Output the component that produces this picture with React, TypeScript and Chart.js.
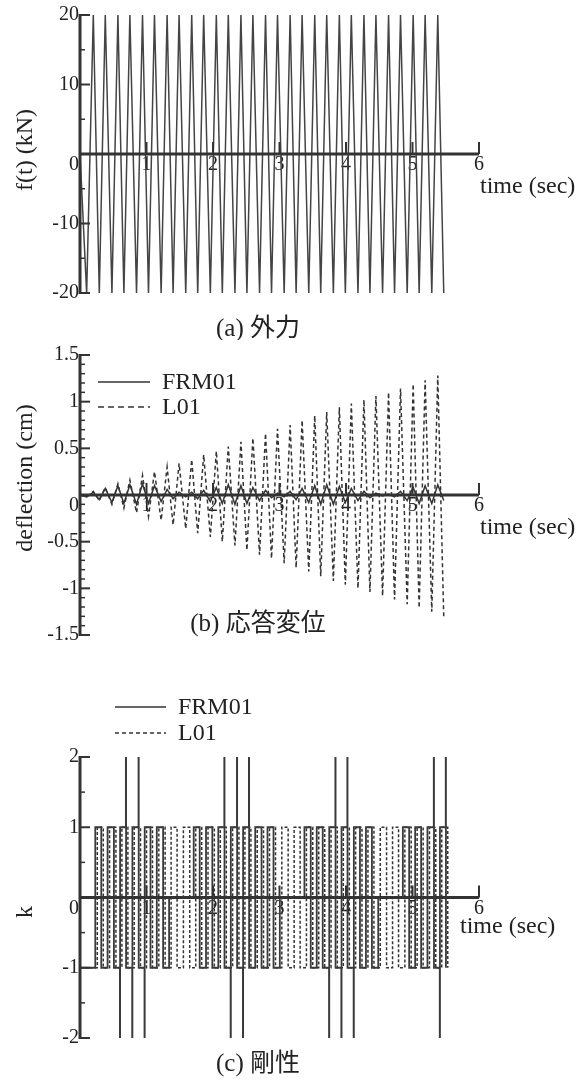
import React, { useEffect, useRef } from "react";
import { Chart, registerables } from "chart.js";

Chart.register(...registerables);

// ---------- DATA ----------
// times (sec) of the extrema of the forcing / response curves
const tExt = [
  0, 0.1, 0.2, 0.29, 0.38, 0.48, 0.57, 0.66, 0.75, 0.85, 0.94, 1.03, 1.12, 1.22, 1.31, 1.4, 1.49, 1.59,
  1.68, 1.77, 1.86, 1.96, 2.05, 2.14, 2.23, 2.33, 2.42, 2.51, 2.6, 2.7, 2.79, 2.88, 2.97, 3.07, 3.16,
  3.25, 3.34, 3.44, 3.53, 3.62, 3.71, 3.81, 3.9, 3.99, 4.08, 4.18, 4.27, 4.36, 4.45, 4.55, 4.64, 4.73,
  4.82, 4.92, 5.01, 5.1, 5.19, 5.29, 5.38, 5.47,
];

// (a) external force f(t) in kN
const forceKN = [
  0, -20, 20, -20, 20, -20, 20, -20, 20, -20, 20, -20, 20, -20, 20, -20, 20, -20, 20, -20, 20, -20, 20,
  -20, 20, -20, 20, -20, 20, -20, 20, -20, 20, -20, 20, -20, 20, -20, 20, -20, 20, -20, 20, -20, 20, -20,
  20, -20, 20, -20, 20, -20, 20, -20, 20, -20, 20, -20, 20, -20,
];

// (b) deflection (cm)
const deflFRM01 = [
  0, -0.02, 0.03, -0.05, 0.07, -0.08, 0.1, -0.09, 0.11, -0.1, 0.12, -0.09, 0.1, -0.07, 0.06, -0.04, 0.03,
  -0.02, 0.03, -0.04, 0.05, -0.07, 0.08, -0.09, 0.11, -0.1, 0.1, -0.09, 0.08, -0.06, 0.05, -0.03, 0.02,
  -0.02, 0.04, -0.05, 0.07, -0.08, 0.1, -0.1, 0.11, -0.1, 0.09, -0.08, 0.07, -0.06, 0.04, -0.03, 0.02,
  -0.01, 0.01, -0.02, 0.04, -0.06, 0.08, -0.09, 0.1, -0.09, 0.11, -0.06,
];
const deflL01 = [
  0, -0.02, 0.04, -0.06, 0.08, -0.1, 0.12, -0.14, 0.16, -0.19, 0.21, -0.23, 0.25, -0.27, 0.3, -0.32, 0.34,
  -0.36, 0.38, -0.41, 0.43, -0.45, 0.47, -0.5, 0.52, -0.54, 0.57, -0.59, 0.61, -0.64, 0.66, -0.68, 0.71,
  -0.73, 0.75, -0.78, 0.8, -0.82, 0.85, -0.87, 0.89, -0.92, 0.94, -0.96, 0.98, -1.0, 1.02, -1.04, 1.06,
  -1.08, 1.1, -1.12, 1.14, -1.17, 1.19, -1.21, 1.23, -1.25, 1.28, -1.31,
];

// (c) stiffness state k (stepped: value holds from its time to the next one)
const kTimeFRM01 = [
  0, 0.23, 0.32, 0.415, 0.51, 0.6, 0.603, 0.69, 0.693, 0.785, 0.788, 0.88, 0.883, 0.97, 0.973, 1.06,
  1.155, 1.25, 1.34, 1.71, 1.8, 1.895, 1.99, 2.08, 2.17, 2.173, 2.265, 2.268, 2.36, 2.363, 2.45, 2.453,
  2.54, 2.543, 2.635, 2.73, 2.82, 2.91, 3.005, 3.375, 3.47, 3.56, 3.65, 3.745, 3.748, 3.84, 3.843, 3.93,
  3.933, 4.02, 4.023, 4.115, 4.118, 4.21, 4.3, 4.39, 4.485, 4.855, 4.95, 5.04, 5.13, 5.225, 5.32, 5.323,
  5.41, 5.413, 5.5, 5.503,
];
const kFRM01 = [
  -1, 1, -1, 1, -1, -2, 1, 2, -1, -2, 1, 2, -1, -2, 1, -1, 1, -1, 0, 1, -1, 1, -1, 1, 2, -1, -2, 1, 2,
  -1, -2, 1, 2, -1, 1, -1, 1, -1, 0, 1, -1, 1, -1, -2, 1, 2, -1, -2, 1, 2, -1, -2, 1, -1, 1, -1, 0, 1,
  -1, 1, -1, 1, 2, -1, -2, 1, 2, -1,
];
const kTimeL01 = [
  0, 0.26, 0.35, 0.445, 0.54, 0.63, 0.72, 0.815, 0.91, 1.0, 1.09, 1.185, 1.28, 1.37, 1.46, 1.555, 1.65,
  1.74, 1.83, 1.925, 2.02, 2.11, 2.2, 2.295, 2.39, 2.48, 2.57, 2.665, 2.76, 2.85, 2.94, 3.035, 3.13,
  3.22, 3.31, 3.405, 3.5, 3.59, 3.68, 3.775, 3.87, 3.96, 4.05, 4.145, 4.24, 4.33, 4.42, 4.515, 4.61,
  4.7, 4.79, 4.885, 4.98, 5.07, 5.16, 5.255, 5.35, 5.44, 5.53,
];
const kL01 = [
  -1, 1, -1, 1, -1, 1, -1, 1, -1, 1, -1, 1, -1, 1, -1, 1, -1, 1, -1, 1, -1, 1, -1, 1, -1, 1, -1, 1, -1,
  1, -1, 1, -1, 1, -1, 1, -1, 1, -1, 1, -1, 1, -1, 1, -1, 1, -1, 1, -1, 1, -1, 1, -1, 1, -1, 1, -1, 1, -1,
];

// axis ticks
const xTicks = [1, 2, 3, 4, 5, 6];
const fTicks = [20, 10, 0, -10, -20];
const fMinor = [15, 5, -5, -15];
const dTicks = [1.5, 1, 0.5, 0, -0.5, -1, -1.5];
const dMinor = [
  1.4, 1.3, 1.2, 1.1, 0.9, 0.8, 0.7, 0.6, 0.4, 0.3, 0.2, 0.1, -0.1, -0.2, -0.3, -0.4, -0.6, -0.7, -0.8,
  -0.9, -1.1, -1.2, -1.3, -1.4,
];
const kTicks = [2, 1, 0, -1, -2];
const kMinor = [1.5, 0.5, -0.5, -1.5];

// ---------- helpers ----------
const pts = (xs: number[], ys: number[]) => xs.map((x, i) => ({ x, y: ys[i] }));

const SERIF = '"Liberation Serif", "Times New Roman", serif';
const CAP_FONT = '25px "Liberation Serif", "Noto Sans CJK JP", serif';
const INK = "#222";
const LINE = "#333";

type Legend = { x1: number; x2: number; textX: number; y1: number; y2: number; dash: number[] };
type PanelCfg = {
  id: string;
  top: number;
  height: number;
  padding: { left: number; right: number; top: number; bottom: number };
  yMin: number;
  yMax: number;
  yMajor: number[];
  yMinor: number[];
  yTitle: string;
  yTitlePos: [number, number];
  xTitlePos: [number, number];
  caption: string;
  captionPos: [number, number];
  legend?: Legend;
  datasets: any[];
};

function axesPlugin(p: PanelCfg) {
  return {
    id: "axes_" + p.id,
    beforeDatasetsDraw(chart: any) {
      const ctx = chart.ctx as CanvasRenderingContext2D;
      const xs = chart.scales.x;
      const ys = chart.scales.y;
      const x0 = xs.getPixelForValue(0);
      const y0 = ys.getPixelForValue(0);
      ctx.save();
      ctx.fillStyle = INK;
      // y tick labels
      ctx.font = "20px " + SERIF;
      ctx.textAlign = "right";
      ctx.textBaseline = "middle";
      for (const v of p.yMajor) {
        const y = ys.getPixelForValue(v) + (v === 0 ? 11 : 0);
        ctx.fillText(String(v), x0 - 1, y);
      }
      // x tick labels
      ctx.textAlign = "center";
      for (const v of xTicks) {
        ctx.fillText(String(v), xs.getPixelForValue(v), y0 + 11);
      }
      // axis titles
      ctx.font = "24px " + SERIF;
      ctx.textAlign = "left";
      ctx.fillText("time (sec)", p.xTitlePos[0], p.xTitlePos[1]);
      ctx.save();
      ctx.translate(p.yTitlePos[0], p.yTitlePos[1]);
      ctx.rotate(-Math.PI / 2);
      ctx.textAlign = "center";
      ctx.fillText(p.yTitle, 0, 0);
      ctx.restore();
      // caption
      ctx.font = CAP_FONT;
      ctx.textAlign = "center";
      ctx.fillText(p.caption, p.captionPos[0], p.captionPos[1]);
      // legend
      if (p.legend) {
        const L = p.legend;
        ctx.strokeStyle = LINE;
        ctx.lineWidth = 1.5;
        ctx.beginPath();
        ctx.moveTo(L.x1, L.y1);
        ctx.lineTo(L.x2, L.y1);
        ctx.stroke();
        ctx.setLineDash(L.dash);
        ctx.beginPath();
        ctx.moveTo(L.x1, L.y2);
        ctx.lineTo(L.x2, L.y2);
        ctx.stroke();
        ctx.setLineDash([]);
        ctx.font = "24px " + SERIF;
        ctx.textAlign = "left";
        ctx.fillText("FRM01", L.textX, L.y1 + 1);
        ctx.fillText("L01", L.textX, L.y2 + 1);
      }
      ctx.restore();
    },
    afterDatasetsDraw(chart: any) {
      const ctx = chart.ctx as CanvasRenderingContext2D;
      const xs = chart.scales.x;
      const ys = chart.scales.y;
      const x0 = xs.getPixelForValue(0);
      const y0 = ys.getPixelForValue(0);
      ctx.save();
      ctx.strokeStyle = LINE;
      ctx.lineWidth = 3;
      ctx.beginPath();
      ctx.moveTo(x0, ys.getPixelForValue(p.yMax) - 1);
      ctx.lineTo(x0, ys.getPixelForValue(p.yMin) + 1);
      ctx.stroke();
      ctx.beginPath();
      ctx.moveTo(x0, y0);
      ctx.lineTo(xs.getPixelForValue(6), y0);
      ctx.stroke();
      ctx.lineWidth = 2;
      for (const v of p.yMajor) {
        const y = ys.getPixelForValue(v);
        ctx.beginPath();
        ctx.moveTo(x0, y);
        ctx.lineTo(x0 + 10, y);
        ctx.stroke();
      }
      ctx.lineWidth = 1.5;
      for (const v of p.yMinor) {
        const y = ys.getPixelForValue(v);
        ctx.beginPath();
        ctx.moveTo(x0, y);
        ctx.lineTo(x0 + 5, y);
        ctx.stroke();
      }
      ctx.lineWidth = 2;
      for (const v of xTicks) {
        const x = xs.getPixelForValue(v);
        ctx.beginPath();
        ctx.moveTo(x, y0);
        ctx.lineTo(x, y0 - 12);
        ctx.stroke();
      }
      ctx.restore();
    },
  };
}

const panels: PanelCfg[] = [
  {
    id: "a",
    top: 0,
    height: 340,
    padding: { left: 80, right: 107, top: 15, bottom: 47 },
    yMin: -20,
    yMax: 20,
    yMajor: fTicks,
    yMinor: fMinor,
    yTitle: "f(t) (kN)",
    yTitlePos: [26, 150],
    xTitlePos: [480, 187],
    caption: "(a) 外力",
    captionPos: [258, 329],
    datasets: [
      { data: pts(tExt, forceKN), borderColor: "#444", borderWidth: 1.5, pointRadius: 0, fill: false },
    ],
  },
  {
    id: "b",
    top: 340,
    height: 310,
    padding: { left: 80, right: 107, top: 15, bottom: 15 },
    yMin: -1.5,
    yMax: 1.5,
    yMajor: dTicks,
    yMinor: dMinor,
    yTitle: "deflection (cm)",
    yTitlePos: [26, 138],
    xTitlePos: [480, 188],
    caption: "(b) 応答変位",
    captionPos: [258, 284],
    legend: { x1: 98, x2: 150, textX: 162, y1: 42, y2: 67, dash: [6, 4] },
    datasets: [
      { data: pts(tExt, deflFRM01), borderColor: "#333", borderWidth: 1.5, pointRadius: 0, fill: false },
      {
        data: pts(tExt, deflL01),
        borderColor: "#333",
        borderWidth: 1.5,
        borderDash: [4, 3],
        pointRadius: 0,
        fill: false,
      },
    ],
  },
  {
    id: "c",
    top: 650,
    height: 434,
    padding: { left: 80, right: 107, top: 107, bottom: 46 },
    yMin: -2,
    yMax: 2,
    yMajor: kTicks,
    yMinor: kMinor,
    yTitle: "k",
    yTitlePos: [26, 262],
    xTitlePos: [460, 277],
    caption: "(c) 剛性",
    captionPos: [258, 414],
    legend: { x1: 115, x2: 166, textX: 178, y1: 57, y2: 83, dash: [4, 3] },
    datasets: [
      {
        data: pts(kTimeFRM01, kFRM01),
        stepped: true,
        borderColor: "#3a3a3a",
        borderWidth: 1.8,
        pointRadius: 0,
        fill: false,
      },
      {
        data: pts(kTimeL01, kL01),
        stepped: true,
        borderColor: "#333",
        borderWidth: 1.5,
        borderDash: [3, 2],
        pointRadius: 0,
        fill: false,
      },
    ],
  },
];

function PanelChart({ cfg }: { cfg: PanelCfg }) {
  const ref = useRef<HTMLCanvasElement>(null);
  useEffect(() => {
    const chart = new Chart(ref.current as HTMLCanvasElement, {
      type: "line",
      data: { datasets: cfg.datasets },
      options: {
        animation: false,
        responsive: false,
        devicePixelRatio: 1,
        events: [],
        layout: { padding: cfg.padding },
        scales: {
          x: { type: "linear", min: 0, max: 6, display: false },
          y: { type: "linear", min: cfg.yMin, max: cfg.yMax, display: false },
        },
        plugins: { legend: { display: false }, tooltip: { enabled: false } },
        elements: { point: { radius: 0 }, line: { tension: 0 } },
      } as any,
      plugins: [axesPlugin(cfg) as any],
    });
    return () => chart.destroy();
  }, [cfg]);
  return (
    <canvas
      ref={ref}
      width={586}
      height={cfg.height}
      style={{ position: "absolute", left: 0, top: cfg.top, width: 586, height: cfg.height }}
    />
  );
}

export default function App() {
  return (
    <div
      style={{
        position: "absolute",
        left: 0,
        top: 0,
        width: 586,
        height: 1084,
        background: "#fff",
        overflow: "hidden",
      }}
    >
      {panels.map((p) => (
        <PanelChart key={p.id} cfg={p} />
      ))}
    </div>
  );
}
